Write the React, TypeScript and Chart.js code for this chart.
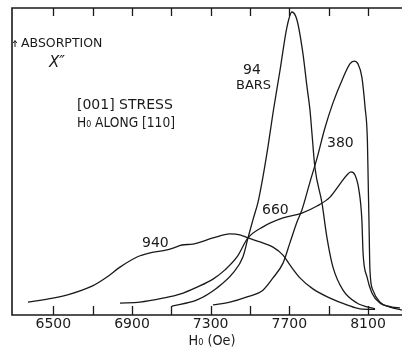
import React, { useEffect, useRef } from 'react';
import { Chart, registerables } from 'chart.js';

Chart.register(...registerables);

// Axis range (Oe) and tick marks
const X_MIN = 6290;
const X_MAX = 8273;
const TICK_VALUES = [6500, 6700, 6900, 7100, 7300, 7500, 7700, 7900, 8100];
const TICK_LABELS = ['6500', '', '6900', '', '7300', '', '7700', '', '8100'];
const X_TITLE = 'H\u2080 (Oe)';

// 940 bars
const FIELD_940 = [6371, 6498, 6585, 6697, 6773, 6839, 6926, 6992, 7078, 7109, 7154, 7210, 7312, 7398, 7449, 7490, 7551, 7617, 7668, 7703, 7754, 7820, 7907, 7993, 8059, 8136];
const ABS_940 = [4.2, 5.5, 6.8, 9.4, 12.4, 15.6, 18.9, 20.2, 21.2, 21.8, 22.8, 23.1, 25.1, 26.4, 26.1, 25.1, 23.8, 22.1, 19.5, 16.3, 12.1, 8.5, 5.5, 3.3, 2.0, 1.8];

// 660 bars
const FIELD_660 = [6839, 6941, 7058, 7144, 7231, 7312, 7373, 7434, 7490, 7566, 7668, 7764, 7841, 7907, 7958, 7993, 8013, 8034, 8054, 8069, 8075, 8095, 8120, 8161, 8222, 8263];
const ABS_660 = [3.9, 4.2, 5.5, 6.8, 9.1, 11.7, 14.7, 18.9, 25.1, 28.7, 31.6, 33.2, 35.5, 38.4, 42.7, 45.6, 46.6, 45.6, 40.7, 30.9, 20.2, 12.4, 7.2, 3.9, 2.6, 2.3];

// 94 bars
const FIELD_94 = [7103, 7231, 7332, 7414, 7464, 7490, 7515, 7541, 7566, 7592, 7617, 7653, 7688, 7713, 7739, 7769, 7790, 7805, 7815, 7830, 7866, 7891, 7922, 7973, 8044, 8136];
const ABS_94 = [2.9, 4.9, 8.8, 13.7, 18.9, 25.1, 31.0, 36.8, 45.0, 55.0, 65.8, 79.8, 93.8, 98.7, 96.1, 85.3, 74.3, 66.8, 59.3, 48.2, 36.5, 25.4, 15.6, 8.1, 3.9, 2.0];

// 380 bars
const FIELD_380 = [7312, 7398, 7485, 7566, 7617, 7668, 7703, 7739, 7764, 7805, 7841, 7881, 7922, 7973, 8008, 8029, 8049, 8069, 8085, 8097, 8101, 8105, 8110, 8125, 8161, 8212, 8273];
const ABS_380 = [3.3, 4.2, 5.9, 8.1, 12.1, 16.9, 23.5, 30.3, 34.2, 43.3, 51.1, 60.9, 69.1, 77.2, 81.8, 82.7, 81.8, 77.5, 67.8, 57.0, 44.0, 30.9, 14.7, 8.1, 4.2, 2.6, 1.6];

const INK = '#1a1a1a';
const FONT = '"DejaVu Sans"';

const toPoints = (xs: number[], ys: number[]) => xs.map((x, i) => ({ x, y: ys[i] }));

const framePlugin = {
  id: 'framePlugin',
  afterDraw(chart: any) {
    const { ctx, chartArea } = chart;
    const xs = chart.scales.x;
    const { left, right, top, bottom } = chartArea;
    ctx.save();
    ctx.strokeStyle = INK;
    ctx.lineWidth = 1.6;
    ctx.beginPath();
    ctx.moveTo(right, top);
    ctx.lineTo(left, top);
    ctx.lineTo(left, bottom);
    ctx.lineTo(right, bottom);
    ctx.stroke();
    ctx.lineWidth = 1.3;
    xs.ticks.forEach((t: any) => {
      const px = Math.round(xs.getPixelForValue(t.value)) + 0.5;
      ctx.beginPath();
      ctx.moveTo(px, bottom);
      ctx.lineTo(px, bottom - 9);
      ctx.moveTo(px, top);
      ctx.lineTo(px, top + 8);
      ctx.stroke();
    });
    // small arrow head by the axis label
    ctx.lineWidth = 1;
    ctx.beginPath();
    ctx.moveTo(15, 47);
    ctx.lineTo(15, 41);
    ctx.moveTo(13.3, 43);
    ctx.lineTo(15, 40.5);
    ctx.lineTo(16.7, 43);
    ctx.stroke();

    ctx.fillStyle = INK;
    ctx.textAlign = 'left';
    ctx.textBaseline = 'alphabetic';
    const txt = (s: string, x: number, y: number, size: number, style = '', maxW?: number) => {
      ctx.font = `${style}${size}px ${FONT}`;
      if (maxW) ctx.fillText(s, x, y, maxW);
      else ctx.fillText(s, x, y);
    };
    txt('ABSORPTION', 21, 47, 12.5);
    txt('X\u2033', 49, 67, 15, 'italic ');
    txt('[001] STRESS', 77, 109, 14);
    txt('H\u2080 ALONG [110]', 77, 127, 14, '', 98);
    txt('94', 243, 74, 14);
    txt('BARS', 236, 89, 13);
    txt('380', 327, 147, 14);
    txt('660', 262, 214, 14);
    txt('940', 142, 247, 14);

    // x-axis title, centred under the 7300 tick
    ctx.textAlign = 'center';
    ctx.font = `14px ${FONT}`;
    ctx.fillText(X_TITLE, 212, 345, 47);
    ctx.restore();
  },
};

export default function App() {
  const ref = useRef<HTMLCanvasElement | null>(null);

  useEffect(() => {
    if (!ref.current) return;
    const mk = (xs: number[], ys: number[], label: string) => ({
      label,
      data: toPoints(xs, ys),
      borderColor: INK,
      borderWidth: 1.3,
      pointRadius: 0,
      fill: false,
      cubicInterpolationMode: 'monotone' as const,
    });
    const chart = new Chart(ref.current, {
      type: 'line',
      data: {
        datasets: [
          mk(FIELD_940, ABS_940, '940'),
          mk(FIELD_660, ABS_660, '660'),
          mk(FIELD_94, ABS_94, '94 BARS'),
          mk(FIELD_380, ABS_380, '380'),
        ],
      },
      options: {
        animation: false,
        responsive: false,
        layout: { padding: { left: 12, top: 8, right: 0, bottom: 17.2 } },
        plugins: { legend: { display: false }, tooltip: { enabled: false }, title: { display: false } },
        scales: {
          x: {
            type: 'linear',
            min: X_MIN,
            max: X_MAX,
            afterBuildTicks: (scale: any) => {
              scale.ticks = TICK_VALUES.map((v) => ({ value: v }));
            },
            grid: { display: false, drawTicks: false },
            border: { display: false },
            ticks: {
              autoSkip: false,
              maxRotation: 0,
              padding: 1,
              color: INK,
              font: { family: 'DejaVu Sans', size: 14 },
              callback: (v: any) => {
                const i = TICK_VALUES.indexOf(Number(v));
                return i >= 0 ? TICK_LABELS[i] : '';
              },
            },
            title: { display: false },
          },
          y: {
            display: false,
            min: 0,
            max: 100,
          },
        },
      },
      plugins: [framePlugin],
    });
    return () => chart.destroy();
  }, []);

  return (
    <div style={{ position: 'fixed', left: 0, top: 0, width: 402, height: 351, background: '#fff' }}>
      <canvas ref={ref} width={402} height={351} style={{ display: 'block' }} />
    </div>
  );
}
